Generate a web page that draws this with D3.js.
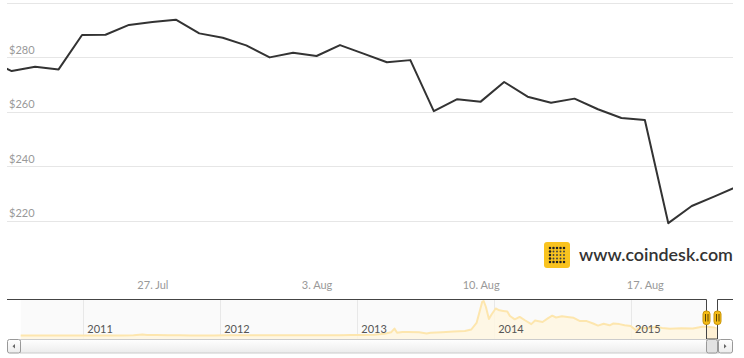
<!DOCTYPE html>
<html><head><meta charset="utf-8">
<script src="https://cdn.jsdelivr.net/npm/d3@7"></script>
<style>
html,body{margin:0;padding:0;background:#fff;}
svg{display:block;}
text{font-family:Lato,"Open Sans",sans-serif;}
</style></head>
<body>
<svg id="c" width="744" height="358"></svg>
<script>
// ---- Main series: daily BPI close (USD), 20 Jul – 21 Aug 2015
const dates = ["2015-07-20","2015-07-21","2015-07-22","2015-07-23","2015-07-24","2015-07-25","2015-07-26","2015-07-27","2015-07-28","2015-07-29","2015-07-30","2015-07-31","2015-08-01","2015-08-02","2015-08-03","2015-08-04","2015-08-05","2015-08-06","2015-08-07","2015-08-08","2015-08-09","2015-08-10","2015-08-11","2015-08-12","2015-08-13","2015-08-14","2015-08-15","2015-08-16","2015-08-17","2015-08-18","2015-08-19","2015-08-20","2015-08-21"];
const prices = [278.8,274.9,276.5,275.5,288.1,288.2,291.8,292.9,293.7,288.7,287.1,284.3,279.9,281.6,280.4,284.4,281.3,278.1,278.9,260.2,264.6,263.7,270.9,265.5,263.3,264.8,260.9,257.7,257.0,219.2,225.5,229.1,232.8];
const yTicks = [220,240,260,280];
const yGrid = [220,240,260,280,300];
const xTickDates = ["2015-07-27","2015-08-03","2015-08-10","2015-08-17"];
const xTickLabels = ["27. Jul","3. Aug","10. Aug","17. Aug"];

// ---- Navigator series: BPI history (USD)
const navDates = ["2010-07-18","2010-08-15","2010-09-15","2010-10-15","2010-11-15","2010-12-15","2011-01-15","2011-02-15","2011-03-15","2011-04-15","2011-05-15","2011-06-08","2011-06-20","2011-07-15","2011-08-15","2011-09-15","2011-10-15","2011-11-15","2011-12-15","2012-01-15","2012-02-15","2012-03-15","2012-04-15","2012-05-15","2012-06-15","2012-07-15","2012-08-15","2012-09-15","2012-10-15","2012-11-15","2012-12-15","2013-01-15","2013-02-15","2013-03-15","2013-04-01","2013-04-10","2013-04-17","2013-05-01","2013-05-15","2013-06-15","2013-07-05","2013-07-15","2013-08-15","2013-09-15","2013-10-15","2013-11-01","2013-11-15","2013-11-30","2013-12-04","2013-12-10","2013-12-18","2013-12-25","2014-01-05","2014-01-15","2014-01-25","2014-02-05","2014-02-12","2014-02-25","2014-03-10","2014-03-25","2014-04-10","2014-04-20","2014-05-10","2014-05-25","2014-06-05","2014-06-15","2014-07-01","2014-07-15","2014-08-01","2014-08-18","2014-09-05","2014-09-22","2014-10-05","2014-10-20","2014-11-05","2014-11-15","2014-12-01","2014-12-15","2014-12-31","2015-01-14","2015-01-25","2015-02-15","2015-03-10","2015-03-25","2015-04-15","2015-05-15","2015-06-15","2015-07-10","2015-07-25","2015-08-10","2015-08-19","2015-08-21"];
const navValues = [0.08,0.07,0.06,0.1,0.25,0.25,0.4,0.9,0.85,1.1,7,30,16,14,10,5,3.5,2.5,3.3,6.5,5,4.9,5,5.1,6.5,8.8,11.5,12,11.5,11.5,13.5,15,27,60,105,230,90,120,120,105,70,95,110,130,150,200,420,1120,1150,950,550,700,900,840,820,800,650,540,620,500,380,500,450,580,660,600,640,620,590,480,480,400,330,390,340,400,380,340,315,180,270,240,290,250,225,240,235,290,290,265,230,233];
const navYears = ["2011","2012","2013","2014","2015"];

const parse = d3.timeParse("%Y-%m-%d");
const svg = d3.select("#c");

// ---------- main plot ----------
const plotL = 7, plotR = 733, plotT = 2.5, plotB = 275.6;
const x = d3.scaleTime().domain([parse("2015-07-21"), parse("2015-08-18")]).range([11.7, 668.3]);
const y = d3.scaleLinear().domain([200, 300]).range([plotB, plotT]);

svg.append("defs").append("clipPath").attr("id","pc")
  .append("rect").attr("x",plotL).attr("y",0).attr("width",plotR-plotL).attr("height",plotB);

svg.append("g").selectAll("line").data(yGrid).join("line")
  .attr("x1",plotL).attr("x2",plotR)
  .attr("y1",d=>Math.round(y(d))+0.5).attr("y2",d=>Math.round(y(d))+0.5)
  .attr("stroke","#e6e6e6").attr("stroke-width",1);

svg.append("g").selectAll("text").data(yTicks).join("text")
  .attr("x",9).attr("y",d=>y(d)-3.5)
  .attr("font-size",11).attr("fill","#999")
  .text(d=>"$"+d);

const series = dates.map((d,i)=>({d:parse(d),v:prices[i]}));
svg.append("path").datum(series)
  .attr("clip-path","url(#pc)")
  .attr("fill","none").attr("stroke","#333").attr("stroke-width",2)
  .attr("stroke-linejoin","round")
  .attr("d",d3.line().x(p=>x(p.d)).y(p=>y(p.v)));

// x axis labels via d3 axis
const xAxis = d3.axisBottom(x)
  .tickValues(xTickDates.map(parse))
  .tickFormat((d,i)=>xTickLabels[i])
  .tickSize(0).tickPadding(0);
const gx = svg.append("g").attr("transform","translate(0,281)").call(xAxis);
gx.select(".domain").remove();
gx.selectAll("text").attr("font-size",11).attr("fill","#999")
  .attr("font-family","Lato, 'Open Sans', sans-serif").attr("dy","0.71em");

// logo
const logo = svg.append("g").attr("transform","translate(544,242)");
logo.append("rect").attr("width",26).attr("height",26).attr("rx",3).attr("fill","#f9c31f");
for (let r=0;r<5;r++) for (let c=0;c<5;c++){
  const edge = (r===0||r===4||c===0);
  logo.append("circle").attr("cx",6+c*3.5).attr("cy",6+r*3.5)
    .attr("r",edge?1.25:0.95).attr("fill",edge?"#222":"#444");
}
const lt = svg.append("text").attr("x",579).attr("y",261)
  .attr("font-family","'Open Sans',sans-serif").attr("font-weight",600)
  .attr("font-size",17).attr("fill","#333").text("www.coindesk.com");
const L = lt.node().getComputedTextLength();
lt.attr("font-size",17*154/L);

// ---------- navigator ----------
const navT = 299, navB = 339;
const nx = d3.scaleTime().domain([parse("2011-01-01"), parse("2015-01-01")]).range([83.3, 631]);
const ny = d3.scaleLinear().domain([0, 1150]).range([335.5, 301]);
const navData = navDates.map((d,i)=>({d:parse(d),v:navValues[i]}));
const selMin = nx(parse("2015-07-20")), selMax = nx(parse("2015-08-21"));

// background/mask
svg.append("rect").attr("x",nx(parse("2010-07-18"))).attr("y",navT).attr("width",selMin-nx(parse("2010-07-18"))).attr("height",navB-navT)
  .attr("fill","#fafafa");

// year grid lines
const yearDates = navYears.map(yv=>parse(yv+"-01-01"));
svg.append("g").selectAll("line").data(yearDates).join("line")
  .attr("x1",d=>Math.round(nx(d))+0.5).attr("x2",d=>Math.round(nx(d))+0.5)
  .attr("y1",navT).attr("y2",navB).attr("stroke","#e8e8e8");

// series area + line
svg.append("path").datum(navData)
  .attr("fill","#fff6e0").attr("fill-opacity",0.8)
  .attr("d",d3.area().x(p=>nx(p.d)).y0(navB).y1(p=>ny(p.v)));
svg.append("path").datum(navData)
  .attr("fill","none").attr("stroke","#fde6ae").attr("stroke-width",2)
  .attr("stroke-linejoin","round")
  .attr("d",d3.line().x(p=>nx(p.d)).y(p=>ny(p.v)));
// selected range highlight
svg.append("rect").attr("x",selMin).attr("y",ny(250)).attr("width",selMax-selMin).attr("height",navB-ny(250))
  .attr("fill","#fdeccc").attr("opacity",0.7);

// year labels
const navAxis = d3.axisBottom(nx).tickValues(yearDates).tickFormat(d3.timeFormat("%Y")).tickSize(0).tickPadding(0);
const gn = svg.append("g").attr("transform","translate(0,325)").call(navAxis);
gn.select(".domain").remove();
gn.selectAll("text").attr("font-size",11).attr("fill","#555").attr("text-anchor","start")
  .attr("font-family","Lato, 'Open Sans', sans-serif").attr("dx",3.5).attr("dy","0.71em");

// outline
const sMin = Math.round(selMin)+0.5, sMax = Math.round(selMax)-0.5;
svg.append("path")
  .attr("d",`M${plotL},${navT}.5 L${sMin},${navT}.5 L${sMin},${navB} L${sMax},${navB} L${sMax},${navT}.5 L${plotR},${navT}.5`)
  .attr("fill","none").attr("stroke","#444").attr("stroke-width",1);

// handles
[sMin,sMax].forEach(hx=>{
  const h = svg.append("g").attr("transform",`translate(${hx},${311})`);
  h.append("rect").attr("x",-3.5).attr("y",0).attr("width",7).attr("height",13.5).attr("rx",3)
    .attr("fill","#f4bb15").attr("stroke","#c8950a").attr("stroke-width",1);
  h.append("line").attr("x1",-1).attr("x2",-1).attr("y1",3).attr("y2",10.5).attr("stroke","#5a4300");
  h.append("line").attr("x1",1.5).attr("x2",1.5).attr("y1",3).attr("y2",10.5).attr("stroke","#5a4300");
});

// scrollbar
const sbT = 339.5, sbH = 13.5;
const grad = svg.select("defs").append("linearGradient").attr("id","sg").attr("x1",0).attr("x2",0).attr("y1",0).attr("y2",1);
grad.append("stop").attr("offset","0").attr("stop-color","#ffffff");
grad.append("stop").attr("offset","1").attr("stop-color","#ececec");
svg.append("rect").attr("x",20.5).attr("y",sbT).attr("width",698).attr("height",sbH)
  .attr("fill","url(#sg)").attr("stroke","#ccc");
// left button
svg.append("rect").attr("x",7.5).attr("y",sbT).attr("width",13).attr("height",sbH).attr("rx",2)
  .attr("fill","url(#sg)").attr("stroke","#999");
svg.append("path").attr("d",`M12.5,${sbT+6.75} L15,${sbT+4.5} L15,${sbT+9} Z`).attr("fill","#666");
// thumb
svg.append("rect").attr("x",sMin).attr("y",sbT).attr("width",sMax-sMin).attr("height",sbH).attr("rx",2)
  .attr("fill","#e2e2e2").attr("stroke","#999");
// right button
svg.append("rect").attr("x",718.5).attr("y",sbT).attr("width",14).attr("height",sbH).attr("rx",2)
  .attr("fill","url(#sg)").attr("stroke","#999");
svg.append("path").attr("d",`M726.5,${sbT+6.75} L724,${sbT+4.5} L724,${sbT+9} Z`).attr("fill","#666");
</script>
</body></html>
